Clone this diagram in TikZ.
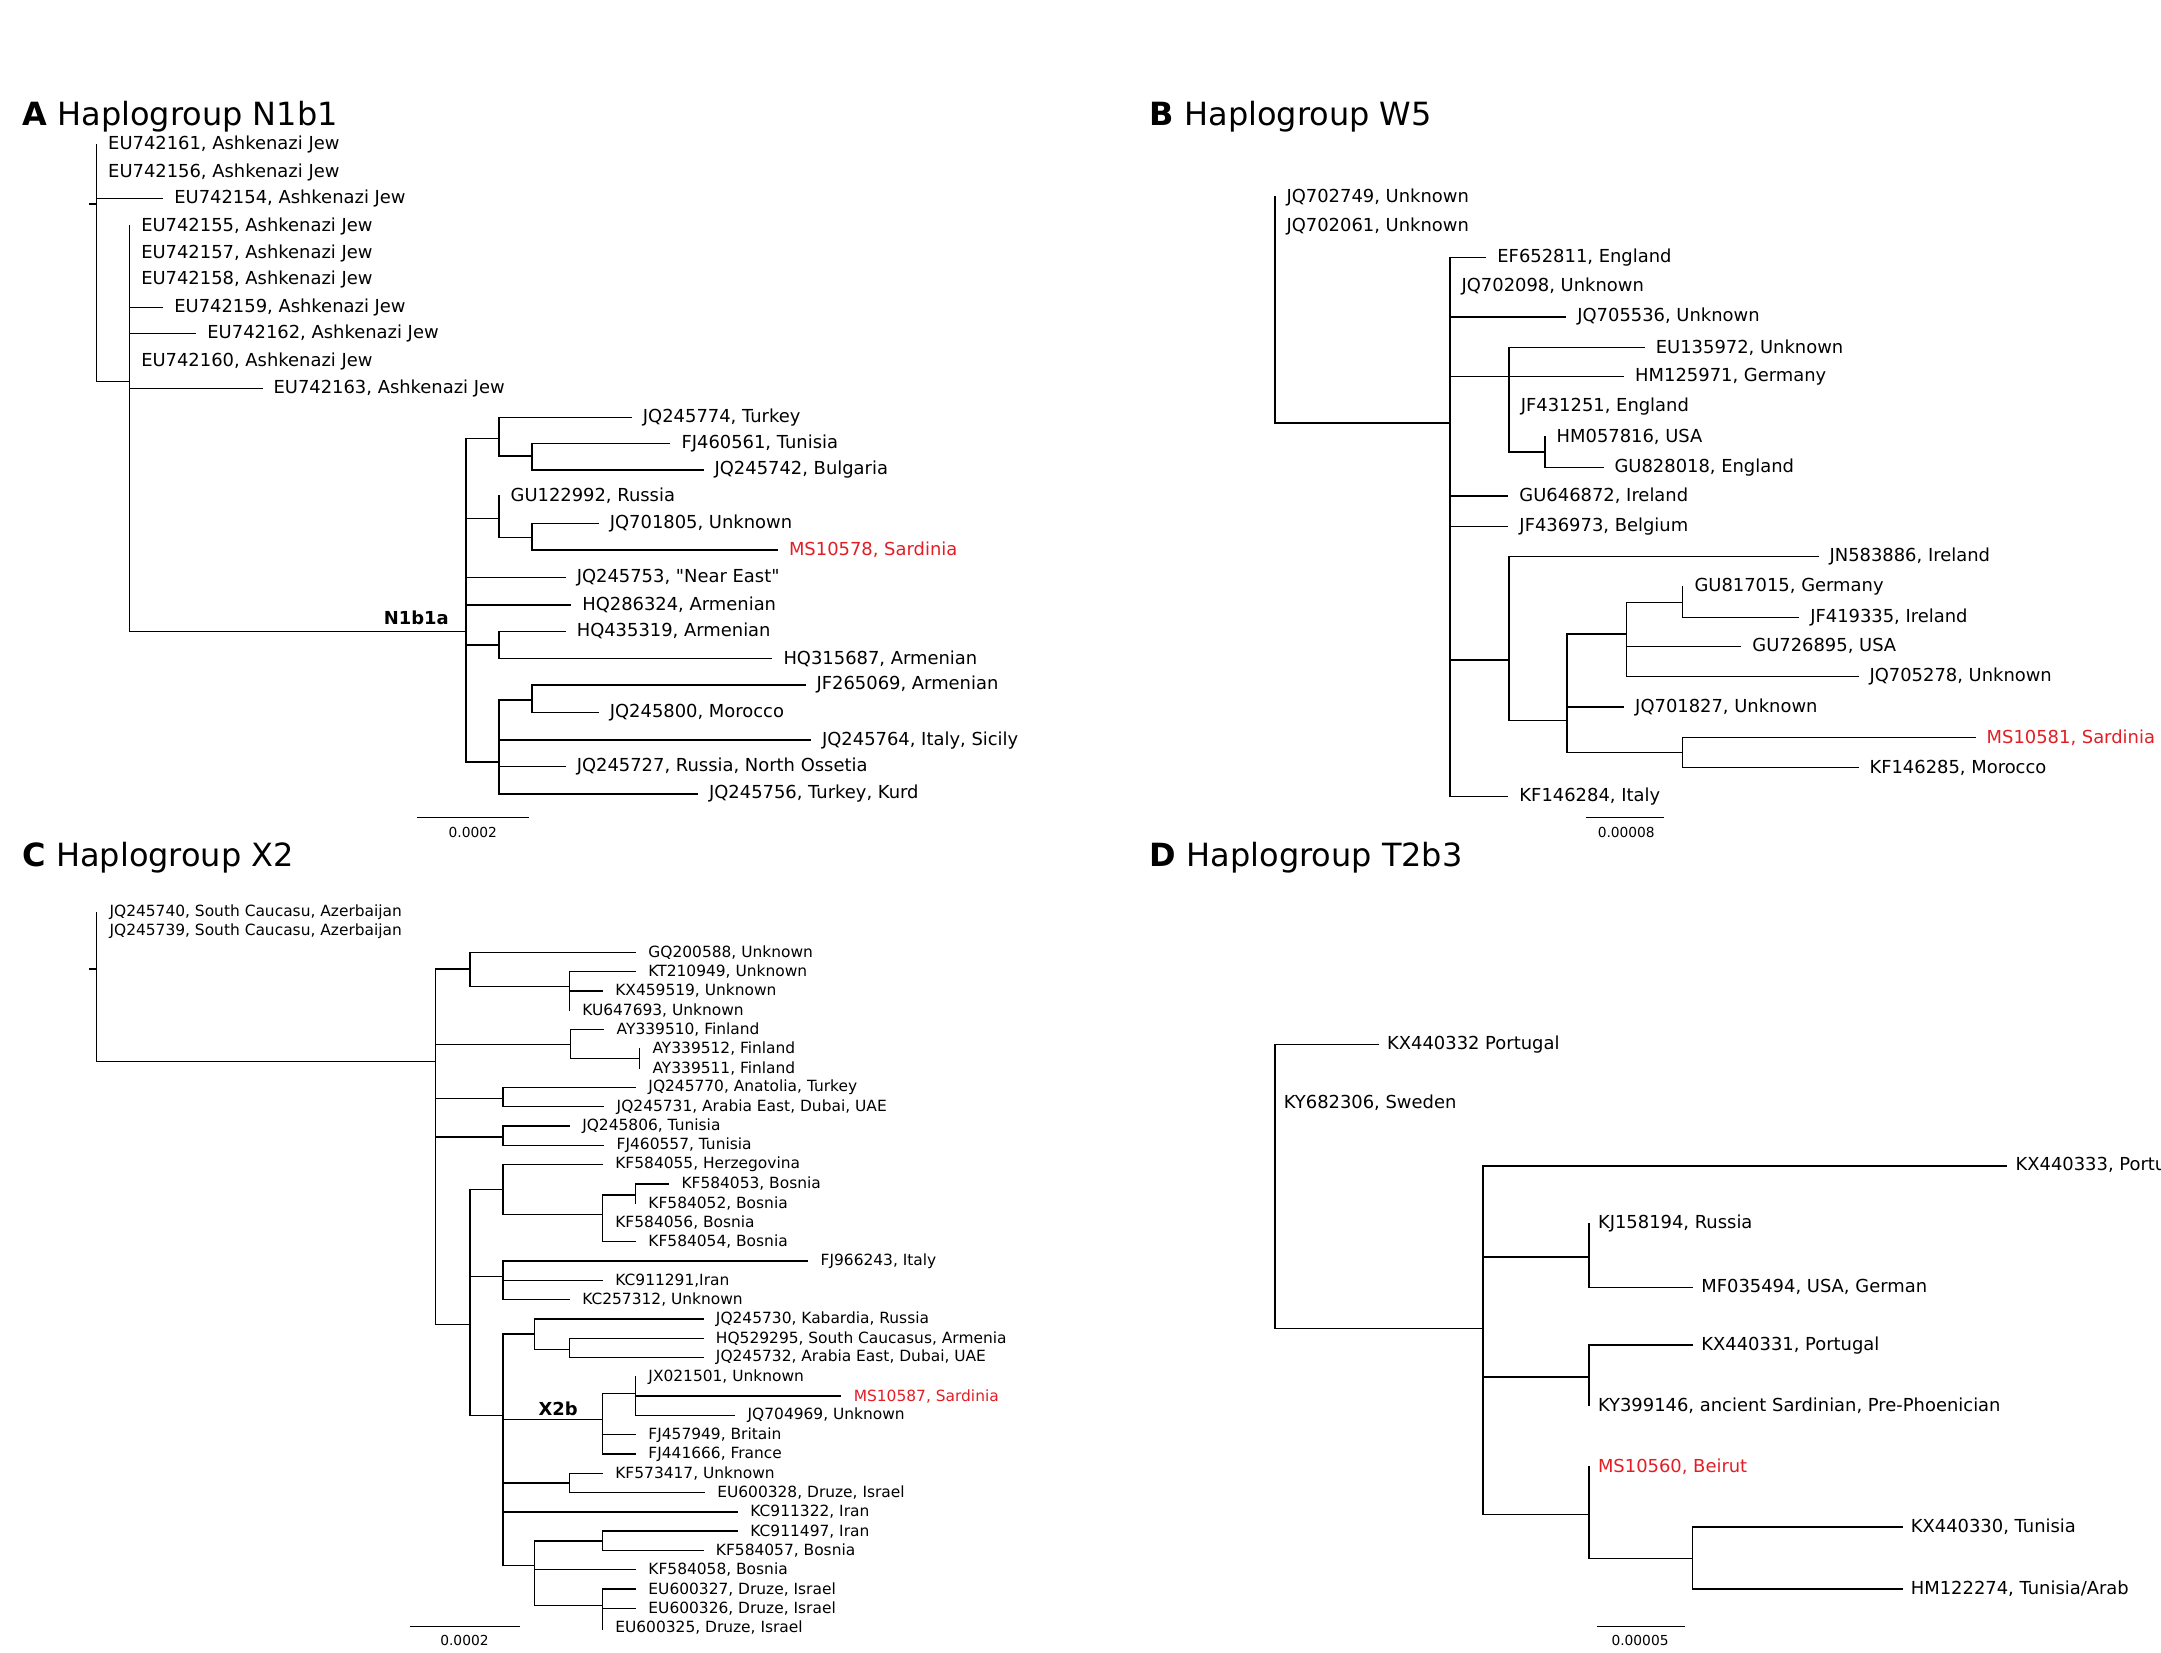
\documentclass[tikz,border=0pt]{standalone}
\usepackage{fontspec}
\setmainfont{DejaVu Sans}
\newfontfamily\qf{DejaVu Sans}
\definecolor{sred}{RGB}{226,30,36}
\newcommand\fa{\fontsize{6.5}{7}\selectfont}
\newcommand\fc{\fontsize{5.6}{6}\selectfont}
\newcommand\ft{\fontsize{11.6}{12}\selectfont}
\newcommand\fs{\fontsize{5}{5.5}\selectfont}
\tikzset{br/.style={line width=0.5pt, line cap=rect},
  lab/.style={anchor=west, inner sep=0pt, xshift=4pt},
  ttl/.style={anchor=west, inner sep=0pt, font=\ft},
  sc/.style={inner sep=0pt, font=\fs},
  hi/.style={text=sred}}
\newcommand\vb[3]{\draw[br] (#1,#2) -- (#1,#3);}
\newcommand\hb[3]{\draw[br] (#1,#3) -- (#2,#3);}
\newcommand\lf[6][]{\draw[br] (#2,#4) -- (#3,#4) node[lab,#1] (#5) {#6};}
\begin{document}
\begin{tikzpicture}[x=0.5pt,y=-0.5pt]
\useasboundingbox (0,0) rectangle (1568,1198.7);
\clip (0,0) rectangle (1568,1198.7);
% ---------------- A
\node[ttl] (tA) at (16,85) {\textbf{A} Haplogroup N1b1};
\begin{scope}[font=\fa]
\hb{65}{70}{148}
\vb{70}{105}{277}
\lf{70}{70}{105}{a1}{EU742161, Ashkenazi Jew}
\lf{70}{70}{125}{a2}{EU742156, Ashkenazi Jew}
\lf{70}{118}{144}{a3}{EU742154, Ashkenazi Jew}
\hb{70}{94}{277}
\vb{94}{164}{458}
\lf{94}{94}{164}{a4}{EU742155, Ashkenazi Jew}
\lf{94}{94}{184}{a5}{EU742157, Ashkenazi Jew}
\lf{94}{94}{203}{a6}{EU742158, Ashkenazi Jew}
\lf{94}{118}{223}{a7}{EU742159, Ashkenazi Jew}
\lf{94}{142}{242}{a8}{EU742162, Ashkenazi Jew}
\lf{94}{94}{262}{a9}{EU742160, Ashkenazi Jew}
\lf{94}{190}{282}{a10}{EU742163, Ashkenazi Jew}
\hb{94}{338}{458}
\node[inner sep=0pt] (n1b1a) at (302,448) {\textbf{N1b1a}};
\vb{338}{318}{553}
\hb{338}{362}{318}
\vb{362}{303}{331}
\lf{362}{458}{303}{a11}{JQ245774, Turkey}
\hb{362}{386}{331}
\vb{386}{322}{341}
\lf{386}{486}{322}{a12}{FJ460561, Tunisia}
\lf{386}{510}{341}{a13}{JQ245742, Bulgaria}
\hb{338}{362}{376}
\vb{362}{360}{390}
\lf{362}{362}{360}{a14}{GU122992, Russia}
\hb{362}{386}{390}
\vb{386}{380}{399}
\lf{386}{434}{380}{a15}{JQ701805, Unknown}
\lf[hi]{386}{564}{399}{a16}{MS10578, Sardinia}
\lf{338}{410}{419}{a17}{JQ245753, {\qf"}Near East{\qf"}}
\lf{338}{414}{439}{a18}{HQ286324, Armenian}
\hb{338}{362}{468}
\vb{362}{458}{478}
\lf{362}{410}{458}{a19}{HQ435319, Armenian}
\lf{362}{560}{478}{a20}{HQ315687, Armenian}
\hb{338}{362}{553}
\vb{362}{508}{576}
\hb{362}{386}{508}
\vb{386}{497}{517}
\lf{386}{584}{497}{a21}{JF265069, Armenian}
\lf{386}{434}{517}{a22}{JQ245800, Morocco}
\lf{362}{588}{537}{a23}{JQ245764, Italy, Sicily}
\lf{362}{410}{556}{a24}{JQ245727, Russia, North Ossetia}
\lf{362}{506}{576}{a25}{JQ245756, Turkey, Kurd}
\end{scope}
\hb{303}{383}{593}
\node[sc] (sA) at (343,604) {0.0002};
% ---------------- B
\node[ttl] (tB) at (834,85) {\textbf{B} Haplogroup W5};
\begin{scope}[font=\fa]
\vb{925}{143}{307}
\lf{925}{925}{143}{b1}{JQ702749, Unknown}
\lf{925}{925}{164}{b2}{JQ702061, Unknown}
\hb{925}{1052}{307}
\vb{1052}{187}{578}
\lf{1052}{1078}{187}{b3}{EF652811, England}
\lf{1052}{1052}{208}{b4}{JQ702098, Unknown}
\lf{1052}{1136}{230}{b5}{JQ705536, Unknown}
\hb{1052}{1095}{273}
\vb{1095}{252}{328}
\lf{1095}{1193}{252}{b6}{EU135972, Unknown}
\lf{1095}{1178}{273}{b7}{HM125971, Germany}
\lf{1095}{1095}{295}{b8}{JF431251, England}
\hb{1095}{1121}{328}
\vb{1121}{317}{339}
\lf{1121}{1121}{317}{b9}{HM057816, USA}
\lf{1121}{1163}{339}{b10}{GU828018, England}
\lf{1052}{1094}{360}{b11}{GU646872, Ireland}
\lf{1052}{1094}{382}{b12}{JF436973, Belgium}
\hb{1052}{1095}{479}
\vb{1095}{404}{523}
\lf{1095}{1319}{404}{b13}{JN583886, Ireland}
\hb{1095}{1137}{523}
\vb{1137}{460}{546}
\hb{1137}{1180}{460}
\vb{1180}{437}{491}
\hb{1180}{1221}{437}
\vb{1221}{426}{448}
\lf{1221}{1221}{426}{b14}{GU817015, Germany}
\lf{1221}{1305}{448}{b15}{JF419335, Ireland}
\lf{1180}{1263}{469}{b16}{GU726895, USA}
\lf{1180}{1348}{491}{b17}{JQ705278, Unknown}
\lf{1137}{1178}{513}{b18}{JQ701827, Unknown}
\hb{1137}{1221}{546}
\vb{1221}{535}{557}
\lf[hi]{1221}{1433}{535}{b19}{MS10581, Sardinia}
\lf{1221}{1348}{557}{b20}{KF146285, Morocco}
\lf{1052}{1094}{578}{b21}{KF146284, Italy}
\end{scope}
\hb{1151}{1207}{593}
\node[sc] (sB) at (1180,604) {0.00008};
% ---------------- C
\node[ttl] (tC) at (16,622) {\textbf{C} Haplogroup X2};
\begin{scope}[font=\fc,lab/.append style={xshift=0.5pt}]
\hb{65}{70}{703}
\vb{70}{662}{770}
\lf{70}{70}{662}{c1}{JQ245740, South Caucasu, Azerbaijan}
\lf{70}{70}{676}{c2}{JQ245739, South Caucasu, Azerbaijan}
\hb{70}{316}{770}
\vb{316}{703}{961}
\hb{316}{341}{703}
\vb{341}{691}{716}
\lf{341}{461}{691}{c3}{GQ200588, Unknown}
\hb{341}{413}{716}
\vb{413}{705}{733}
\lf{413}{461}{705}{c4}{KT210949, Unknown}
\lf{413}{437}{719}{c5}{KX459519, Unknown}
\lf{413}{413}{733}{c6}{KU647693, Unknown}
\hb{316}{414}{758}
\vb{414}{747}{768}
\lf{414}{438}{747}{c7}{AY339510, Finland}
\hb{414}{464}{768}
\vb{464}{761}{775}
\lf{464}{464}{761}{c8}{AY339512, Finland}
\lf{464}{464}{775}{c9}{AY339511, Finland}
\hb{316}{365}{797}
\vb{365}{789}{803}
\lf{365}{461}{789}{c10}{JQ245770, Anatolia, Turkey}
\lf{365}{438}{803}{c11}{JQ245731, Arabia East, Dubai, UAE}
\hb{316}{365}{825}
\vb{365}{817}{831}
\lf{365}{413}{817}{c12}{JQ245806, Tunisia}
\lf{365}{438}{831}{c13}{FJ460557, Tunisia}
\hb{316}{341}{961}
\vb{341}{863}{1027}
\hb{341}{365}{863}
\vb{365}{845}{881}
\lf{365}{437}{845}{c14}{KF584055, Herzegovina}
\hb{365}{437}{881}
\vb{437}{867}{901}
\hb{437}{461}{867}
\vb{461}{859}{873}
\lf{461}{485}{859}{c15}{KF584053, Bosnia}
\lf{461}{461}{873}{c16}{KF584052, Bosnia}
\lf{437}{437}{887}{c17}{KF584056, Bosnia}
\lf{437}{461}{901}{c18}{KF584054, Bosnia}
\hb{341}{365}{926}
\vb{365}{915}{943}
\lf{365}{586}{915}{c19}{FJ966243, Italy}
\lf{365}{437}{929}{c20}{KC911291,Iran}
\lf{365}{413}{943}{c21}{KC257312, Unknown}
\hb{341}{365}{1027}
\vb{365}{968}{1136}
\hb{365}{388}{968}
\vb{388}{957}{979}
\lf{388}{510}{957}{c22}{JQ245730, Kabardia, Russia}
\hb{388}{413}{979}
\vb{413}{971}{985}
\lf{413}{510}{971}{c23}{HQ529295, South Caucasus, Armenia}
\lf{413}{510}{985}{c24}{JQ245732, Arabia East, Dubai, UAE}
\hb{365}{437}{1030}
\node[inner sep=0pt,font=\fa] (x2b) at (405,1022) {\textbf{X2b}};
\vb{437}{1011}{1055}
\hb{437}{461}{1011}
\vb{461}{999}{1027}
\lf{461}{461}{999}{c25}{JX021501, Unknown}
\lf[hi]{461}{610}{1013}{c26}{MS10587, Sardinia}
\lf{461}{533}{1027}{c27}{JQ704969, Unknown}
\lf{437}{461}{1041}{c28}{FJ457949, Britain}
\lf{437}{461}{1055}{c29}{FJ441666, France}
\hb{365}{413}{1076}
\vb{413}{1069}{1083}
\lf{413}{437}{1069}{c30}{KF573417, Unknown}
\lf{413}{511}{1083}{c31}{EU600328, Druze, Israel}
\lf{365}{535}{1097}{c32}{KC911322, Iran}
\hb{365}{388}{1136}
\vb{388}{1118}{1165}
\hb{388}{437}{1118}
\vb{437}{1111}{1125}
\lf{437}{535}{1111}{c33}{KC911497, Iran}
\lf{437}{510}{1125}{c34}{KF584057, Bosnia}
\lf{388}{461}{1139}{c35}{KF584058, Bosnia}
\hb{388}{437}{1165}
\vb{437}{1153}{1182}
\lf{437}{461}{1153}{c36}{EU600327, Druze, Israel}
\lf{437}{461}{1167}{c37}{EU600326, Druze, Israel}
\lf{437}{437}{1181}{c38}{EU600325, Druze, Israel}
\end{scope}
\hb{298}{377}{1180}
\node[sc] (sC) at (337,1190) {0.0002};
% ---------------- D
\node[ttl] (tD) at (834,622) {\textbf{D} Haplogroup T2b3};
\begin{scope}[font=\fa,lab/.append style={xshift=-1pt}]
\vb{925}{758}{964}
\lf{925}{1000}{758}{d1}{KX440332 Portugal}
\lf{925}{925}{800}{d2}{KY682306, Sweden}
\hb{925}{1076}{964}
\vb{1076}{846}{1099}
\lf{1076}{1456}{846}{d3}{KX440333, Portugal}
\hb{1076}{1153}{912}
\vb{1153}{888}{934}
\lf{1153}{1153}{888}{d4}{KJ158194, Russia}
\lf{1153}{1228}{934}{d5}{MF035494, USA, German}
\hb{1076}{1153}{999}
\vb{1153}{976}{1020}
\lf{1153}{1228}{976}{d6}{KX440331, Portugal}
\lf{1153}{1153}{1020}{d7}{KY399146, ancient Sardinian, Pre-Phoenician}
\hb{1076}{1153}{1099}
\vb{1153}{1064}{1131}
\lf[hi]{1153}{1153}{1064}{d8}{MS10560, Beirut}
\hb{1153}{1228}{1131}
\vb{1228}{1108}{1153}
\lf{1228}{1380}{1108}{d9}{KX440330, Tunisia}
\lf{1228}{1380}{1153}{d10}{HM122274, Tunisia/Arab}
\end{scope}
\hb{1159}{1222}{1180}
\node[sc] (sD) at (1190,1190) {0.00005};
\end{tikzpicture}
\end{document}
